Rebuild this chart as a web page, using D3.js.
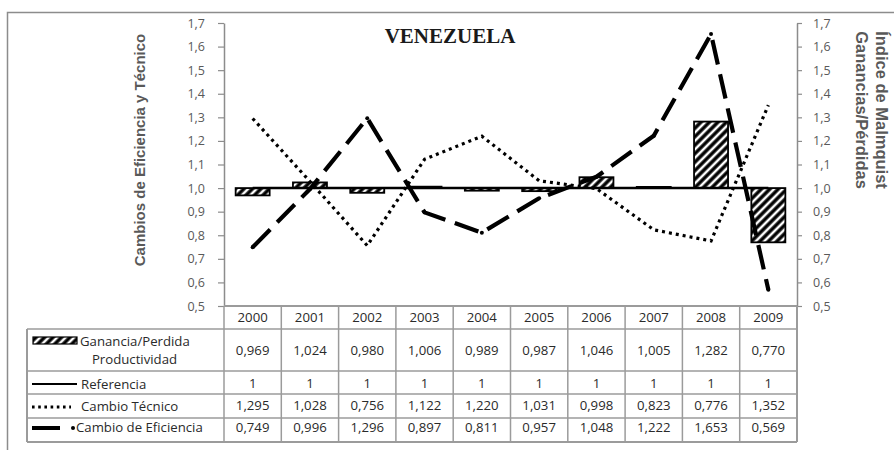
<!DOCTYPE html>
<html><head><meta charset="utf-8">
<script src="https://cdn.jsdelivr.net/npm/d3@7"></script>
<style>
html,body{margin:0;padding:0;background:#fff;}
svg{display:block;}
</style></head>
<body>
<svg id="chart" width="894" height="450"></svg>
<script>
// Series per year
const years = ["2000","2001","2002","2003","2004","2005","2006","2007","2008","2009"];
const ganancia = [0.969,1.024,0.980,1.006,0.989,0.987,1.046,1.005,1.282,0.770];
const referencia = [1,1,1,1,1,1,1,1,1,1];
const cambioTecnico = [1.295,1.028,0.756,1.122,1.220,1.031,0.998,0.823,0.776,1.352];
const cambioEficiencia = [0.749,0.996,1.296,0.897,0.811,0.957,1.048,1.222,1.653,0.569];
const yTicks = [0.5,0.6,0.7,0.8,0.9,1.0,1.1,1.2,1.3,1.4,1.5,1.6,1.7];

const chartTitle = "VENEZUELA";
const leftTitle = "Cambios de Eficiencia y Técnico";
const rightTitle = ["Índice de Malmquist","Ganancias/Pérdidas"];
const seriesNames = {
  ganancia: ["Ganancia/Perdida","Productividad"],
  referencia: "Referencia",
  tecnico: "Cambio Técnico",
  eficiencia: "Cambio de Eficiencia"
};

// Spanish number formatting (decimal comma)
const es = d3.formatLocale({decimal:",", thousands:".", grouping:[3], currency:["",""]});
const fTick = es.format(".1f");
const f3 = es.format(".3f");
const fInt = es.format("d");

const svg = d3.select("#chart");
const SANS = "'Open Sans', sans-serif";
const BOLD = "'Liberation Sans', Arial, sans-serif";
const AXIS_GRAY = "#8c8c8c";
const TXT_GRAY = "#595959";
const TABLE_FS = "13.2px";

// Layout
const plotL = 224, plotR = 797, plotT = 23, plotB = 306;
const rowEdges = [306, 329, 371, 394, 418, 442];
const tableL = 27;

// outer frame (runs off the right and bottom edges)
svg.append("rect")
  .attr("x", 7.5).attr("y", 12.5).attr("width", 1000).attr("height", 1000)
  .attr("fill", "none").attr("stroke", AXIS_GRAY).attr("stroke-width", 1.5);

const x = d3.scaleBand().domain(years).range([plotL, plotR]).padding(0);
const y = d3.scaleLinear().domain([0.5, 1.7]).range([plotB, plotT]);
const bw = x.bandwidth();
const cx = yr => x(yr) + bw / 2;

// hatch pattern for productivity bars
const defs = svg.append("defs");
const pat = defs.append("pattern")
  .attr("id", "hatch").attr("patternUnits", "userSpaceOnUse")
  .attr("width", 6).attr("height", 6)
  .attr("patternTransform", "rotate(45)");
pat.append("rect").attr("width", 6).attr("height", 6).attr("fill", "#000");
pat.append("line").attr("x1", 3).attr("y1", 0).attr("x2", 3).attr("y2", 6)
  .attr("stroke", "#fff").attr("stroke-width", 2.6);

// axes
const leftAxis = d3.axisLeft(y).tickValues(yTicks).tickFormat(fTick)
  .tickSize(6).tickSizeOuter(0).tickPadding(13);
const rightAxis = d3.axisRight(y).tickValues(yTicks).tickFormat(fTick)
  .tickSize(5).tickSizeOuter(0).tickPadding(11);

function styleAxis(g) {
  g.select(".domain").attr("stroke", AXIS_GRAY).attr("stroke-width", 1.5);
  g.selectAll(".tick line").attr("stroke", AXIS_GRAY).attr("stroke-width", 1.2);
  g.selectAll(".tick text").attr("fill", TXT_GRAY)
    .style("font-family", SANS).style("font-size", "12.5px");
}
svg.append("g").attr("transform", `translate(${plotL},0)`).call(leftAxis).call(styleAxis);
svg.append("g").attr("transform", `translate(${plotR},0)`).call(rightAxis).call(styleAxis);

// productivity bars, drawn from the reference level 1
const barW = 34;
svg.append("g").selectAll("rect").data(years).join("rect")
  .attr("x", yr => cx(yr) - barW / 2)
  .attr("width", barW)
  .attr("y", (yr, i) => Math.min(y(ganancia[i]), y(1)))
  .attr("height", (yr, i) => Math.abs(y(ganancia[i]) - y(1)))
  .attr("fill", "url(#hatch)").attr("stroke", "#000").attr("stroke-width", 1.8);

const line = d3.line().x(d => cx(d.yr)).y(d => y(d.v));
const pts = arr => years.map((yr, i) => ({yr, v: arr[i]}));

// reference line
svg.append("path").datum(pts(referencia)).attr("d", line)
  .attr("fill", "none").attr("stroke", "#000").attr("stroke-width", 2.5);

// technical change (dotted)
svg.append("path").datum(pts(cambioTecnico)).attr("d", line)
  .attr("fill", "none").attr("stroke", "#000").attr("stroke-width", 3.2)
  .attr("stroke-dasharray", "3,4");

// efficiency change (long dash with small markers)
svg.append("path").datum(pts(cambioEficiencia)).attr("d", line)
  .attr("fill", "none").attr("stroke", "#000").attr("stroke-width", 4.2)
  .attr("stroke-dasharray", "25,10");
svg.append("g").selectAll("circle").data(pts(cambioEficiencia)).join("circle")
  .attr("cx", d => cx(d.yr)).attr("cy", d => y(d.v)).attr("r", 2).attr("fill", "#000");

// titles
svg.append("text").attr("x", 450).attr("y", 43).attr("text-anchor", "middle")
  .style("font-family", "'Liberation Serif', 'Times New Roman', serif")
  .style("font-weight", "bold").style("font-size", "21px").attr("fill", "#1a1a1a")
  .text(chartTitle);

svg.append("text")
  .attr("transform", "translate(144.5,150) rotate(-90)")
  .attr("text-anchor", "middle")
  .style("font-family", BOLD).style("font-weight", "bold").style("font-size", "15px")
  .attr("fill", TXT_GRAY).text(leftTitle);

const rt = svg.append("text")
  .attr("transform", "translate(876,110) rotate(90)")
  .attr("text-anchor", "middle")
  .style("font-family", BOLD).style("font-weight", "bold").style("font-size", "16.5px")
  .attr("fill", TXT_GRAY);
rt.selectAll("tspan").data(rightTitle).join("tspan")
  .attr("x", 0).attr("dy", (d, i) => i === 0 ? 0 : 20).text(d => d);

// data table
const TABLE_LINE = "#9b9b9b";
const tg = svg.append("g");
// horizontal rules
rowEdges.forEach((ry, i) => {
  tg.append("line")
    .attr("x1", i === 0 ? plotL : tableL).attr("x2", plotR)
    .attr("y1", ry).attr("y2", ry)
    .attr("stroke", TABLE_LINE).attr("stroke-width", (i === 0 || i === rowEdges.length - 1) ? 2 : 1.5);
});
// vertical rules
tg.append("line").attr("x1", tableL).attr("x2", tableL)
  .attr("y1", rowEdges[1]).attr("y2", rowEdges[rowEdges.length - 1])
  .attr("stroke", TABLE_LINE).attr("stroke-width", 2);
years.forEach(yr => {
  tg.append("line").attr("x1", x(yr)).attr("x2", x(yr))
    .attr("y1", rowEdges[0]).attr("y2", rowEdges[rowEdges.length - 1])
    .attr("stroke", TABLE_LINE).attr("stroke-width", 1.5);
});
tg.append("line").attr("x1", plotR).attr("x2", plotR)
  .attr("y1", rowEdges[0]).attr("y2", rowEdges[rowEdges.length - 1])
  .attr("stroke", TABLE_LINE).attr("stroke-width", 2);

const TABLE_TXT = "#2a2a2a";
function cellText(yr, baseline, str) {
  tg.append("text").attr("x", cx(yr)).attr("y", baseline).attr("text-anchor", "middle")
    .style("font-family", SANS).style("font-size", TABLE_FS).attr("fill", TABLE_TXT).text(str);
}
years.forEach((yr, i) => {
  cellText(yr, 322, yr);
  cellText(yr, 355, f3(ganancia[i]));
  cellText(yr, 388, fInt(referencia[i]));
  cellText(yr, 410, f3(cambioTecnico[i]));
  cellText(yr, 432, f3(cambioEficiencia[i]));
});

// legend keys in the first column
function legendText(xp, yp, str, anchor) {
  tg.append("text").attr("x", xp).attr("y", yp).attr("text-anchor", anchor || "start")
    .style("font-family", SANS).style("font-size", TABLE_FS).attr("fill", TABLE_TXT).text(str);
}
tg.append("rect").attr("x", 33).attr("y", 337).attr("width", 44).attr("height", 7)
  .attr("fill", "url(#hatch)").attr("stroke", "#000").attr("stroke-width", 1.2);
legendText(80, 346, seriesNames.ganancia[0]);
legendText(134.5, 364, seriesNames.ganancia[1], "middle");

tg.append("line").attr("x1", 32).attr("x2", 77).attr("y1", 384).attr("y2", 384)
  .attr("stroke", "#000").attr("stroke-width", 2.2);
legendText(81, 389, seriesNames.referencia);

tg.append("line").attr("x1", 32).attr("x2", 71).attr("y1", 407).attr("y2", 407)
  .attr("stroke", "#000").attr("stroke-width", 2.8).attr("stroke-dasharray", "2.6,3.6");
legendText(81, 411, seriesNames.tecnico);

tg.append("line").attr("x1", 32).attr("x2", 60).attr("y1", 428).attr("y2", 428)
  .attr("stroke", "#000").attr("stroke-width", 4);
tg.append("circle").attr("cx", 73).attr("cy", 428).attr("r", 2).attr("fill", "#000");
legendText(76, 432, seriesNames.eficiencia);
</script>
</body></html>
